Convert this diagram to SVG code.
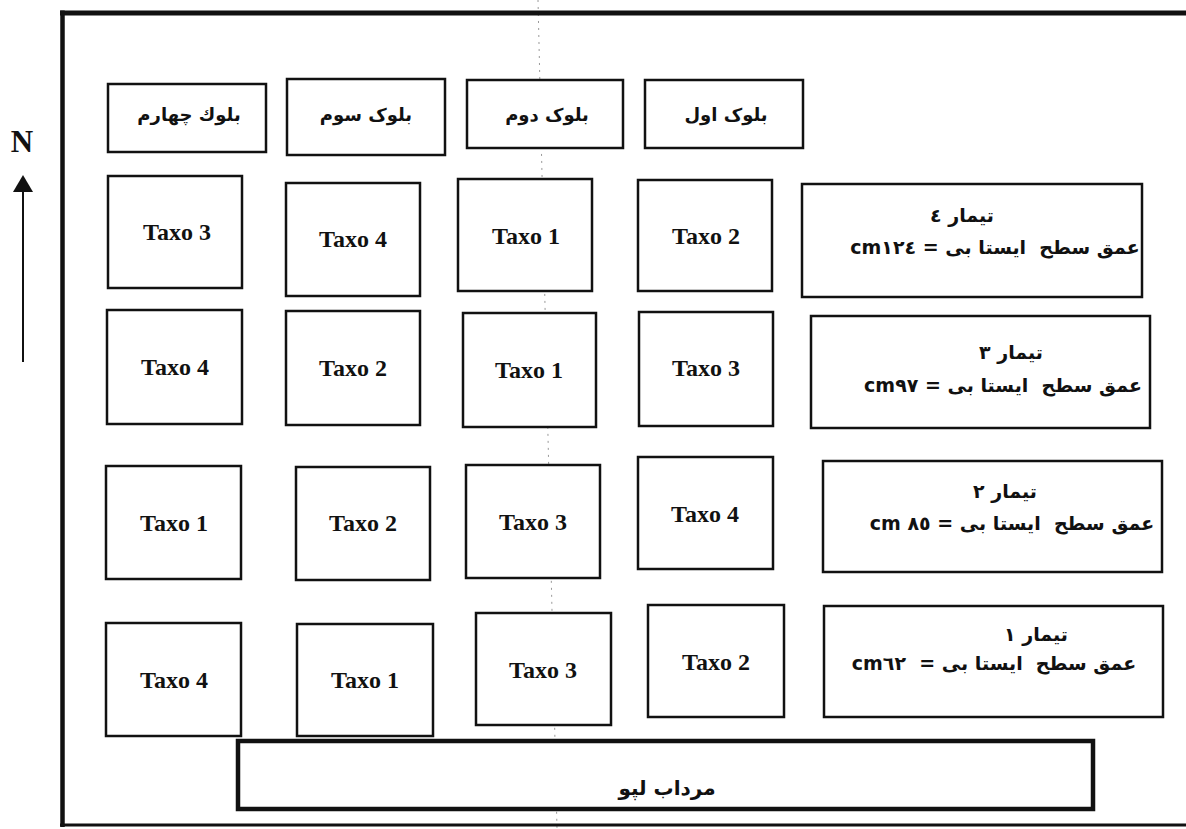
<svg xmlns="http://www.w3.org/2000/svg" width="1186" height="829" viewBox="0 0 1186 829">
<style>
.bx{fill:#fff;stroke:#111;stroke-width:2.5}
.tx{font-family:"Liberation Serif",serif;font-weight:bold;font-size:24px;fill:#111;text-anchor:middle}
.ar{font-family:"DejaVu Sans",sans-serif;font-weight:bold;font-size:18px;fill:#111;text-anchor:middle;direction:rtl}
.ar2{font-family:"DejaVu Sans",sans-serif;font-weight:bold;font-size:19px;fill:#111;text-anchor:middle;direction:rtl}
.frame{stroke:#111;fill:none}
</style>
<rect width="1186" height="829" fill="#fff"/>
<line x1="538" y1="0" x2="557" y2="829" stroke="#999" stroke-width="1" stroke-dasharray="2 5"/>
<g id="frame">
<line class="frame" x1="62.5" y1="10.5" x2="62.5" y2="827" stroke-width="4.5"/>
<line class="frame" x1="60" y1="13" x2="1186" y2="13" stroke-width="5"/>
<line class="frame" x1="60" y1="825" x2="1186" y2="825" stroke-width="3" stroke="#444"/>
</g>
<g id="north">
<text x="22" y="152" style="font-family:'Liberation Serif',serif;font-weight:bold;font-size:31px;fill:#111;text-anchor:middle">N</text>
</g>
<g id="connectors">
<line x1="23" y1="362" x2="23" y2="188" stroke="#111" stroke-width="2"/>
<polygon points="13,192 23,175 33,192" fill="#111"/>
</g>
<g id="h4"><rect class="bx" x="108" y="84" width="158" height="68"/><text class="ar" x="189" y="121">بلوك چهارم</text></g>
<g id="h3"><rect class="bx" x="287" y="79" width="158" height="76"/><text class="ar" x="366" y="121">بلوک سوم</text></g>
<g id="h2"><rect class="bx" x="467" y="80" width="156" height="68"/><text class="ar" x="547" y="121">بلوک دوم</text></g>
<g id="h1"><rect class="bx" x="645" y="80" width="158" height="68"/><text class="ar" x="726" y="121">بلوک اول</text></g>
<g id="r1c4"><rect class="bx" x="108" y="176" width="134" height="112"/><text class="tx" x="177" y="240">Taxo 3</text></g>
<g id="r1c3"><rect class="bx" x="286" y="183" width="134" height="113"/><text class="tx" x="353" y="247">Taxo 4</text></g>
<g id="r1c2"><rect class="bx" x="458" y="179" width="134" height="112"/><text class="tx" x="526" y="244">Taxo 1</text></g>
<g id="r1c1"><rect class="bx" x="638" y="180" width="134" height="111"/><text class="tx" x="706" y="244">Taxo 2</text></g>
<g id="r2c4"><rect class="bx" x="107" y="310" width="135" height="114"/><text class="tx" x="175" y="375">Taxo 4</text></g>
<g id="r2c3"><rect class="bx" x="286" y="311" width="134" height="114"/><text class="tx" x="353" y="376">Taxo 2</text></g>
<g id="r2c2"><rect class="bx" x="463" y="313" width="133" height="114"/><text class="tx" x="529" y="378">Taxo 1</text></g>
<g id="r2c1"><rect class="bx" x="639" y="312" width="134" height="114"/><text class="tx" x="706" y="376">Taxo 3</text></g>
<g id="r3c4"><rect class="bx" x="106" y="466" width="135" height="113"/><text class="tx" x="174" y="531">Taxo 1</text></g>
<g id="r3c3"><rect class="bx" x="296" y="467" width="134" height="113"/><text class="tx" x="363" y="531">Taxo 2</text></g>
<g id="r3c2"><rect class="bx" x="466" y="465" width="134" height="113"/><text class="tx" x="533" y="530">Taxo 3</text></g>
<g id="r3c1"><rect class="bx" x="638" y="457" width="135" height="112"/><text class="tx" x="705" y="522">Taxo 4</text></g>
<g id="r4c4"><rect class="bx" x="106" y="623" width="135" height="113"/><text class="tx" x="174" y="688">Taxo 4</text></g>
<g id="r4c3"><rect class="bx" x="297" y="624" width="136" height="112"/><text class="tx" x="365" y="688">Taxo 1</text></g>
<g id="r4c2"><rect class="bx" x="476" y="613" width="135" height="112"/><text class="tx" x="543" y="678">Taxo 3</text></g>
<g id="r4c1"><rect class="bx" x="648" y="605" width="136" height="112"/><text class="tx" x="716" y="670">Taxo 2</text></g>
<g id="t4"><rect class="bx" x="802" y="184" width="340" height="113"/>
<text class="ar" x="962" y="222" style="font-size:19px">تیمار ٤</text>
<text class="ar2" x="995" y="254" xml:space="preserve">عمق سطح  ایستا بی = &#x2066;cm١٢٤&#x2069;</text></g>
<g id="t3"><rect class="bx" x="811" y="316" width="339" height="112"/>
<text class="ar" x="1011" y="359" style="font-size:19px">تیمار ٣</text>
<text class="ar2" x="1003" y="392" xml:space="preserve">عمق سطح  ایستا بی = &#x2066;cm٩٧&#x2069;</text></g>
<g id="t2"><rect class="bx" x="823" y="461" width="339" height="111"/>
<text class="ar" x="1005" y="498" style="font-size:19px">تیمار ٢</text>
<text class="ar2" x="1012" y="530" xml:space="preserve">عمق سطح  ایستا بی = &#x2066;cm ٨٥&#x2069;</text></g>
<g id="t1"><rect class="bx" x="824" y="606" width="339" height="111"/>
<text class="ar" x="1036" y="641" style="font-size:19px">تیمار ١</text>
<text class="ar2" x="994" y="670" xml:space="preserve">عمق سطح  ایستا بی =  &#x2066;cm٦٢&#x2069;</text></g>
<g id="mordab"><rect x="238" y="741" width="855" height="68" fill="#fff" stroke="#111" stroke-width="4.5"/>
<text class="ar" x="667" y="795" style="font-size:20px">مرداب لپو</text></g>
</svg>
